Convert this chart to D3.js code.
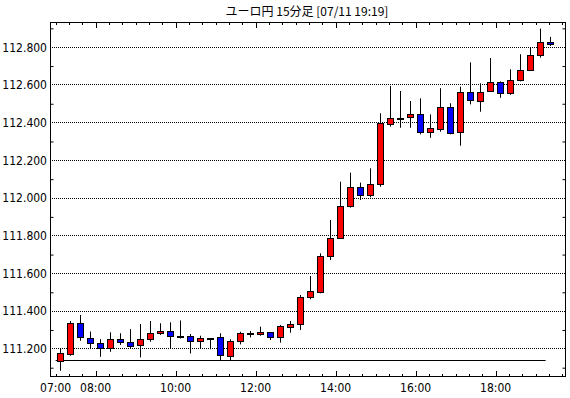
<!DOCTYPE html>
<html>
<head>
<meta charset="utf-8">
<script src="https://cdn.jsdelivr.net/npm/d3@7"></script>
<style>
  body { margin: 0; background: #fff; }
  text { font-family: "Liberation Sans Narrow", "DejaVu Sans Condensed", sans-serif; font-size: 12px; fill: #000; }
  .title { font-family: "Noto Sans CJK JP", sans-serif; font-size: 12px; }
</style>
</head>
<body>
<div id="chart"></div>
<script>
// Chart data (15 minute candles, 07:00 - 19:15)
const times = ["07:00","07:15","07:30","07:45","08:00","08:15","08:30","08:45","09:00","09:15",
  "09:30","09:45","10:00","10:15","10:30","10:45","11:00","11:15","11:30","11:45",
  "12:00","12:15","12:30","12:45","13:00","13:15","13:30","13:45","14:00","14:15",
  "14:30","14:45","15:00","15:15","15:30","15:45","16:00","16:15","16:30","16:45",
  "17:00","17:15","17:30","17:45","18:00","18:15","18:30","18:45","19:00","19:15"];
const opens = [111.133,111.173,111.333,111.253,111.227,111.202,111.249,111.235,111.214,111.248,
  111.280,111.293,111.267,111.263,111.235,111.253,111.258,111.161,111.235,111.280,
  111.274,111.285,111.258,111.315,111.327,111.471,111.500,111.686,111.784,111.953,
  112.054,112.010,112.070,112.388,112.421,112.425,112.441,112.346,112.367,112.482,
  112.346,112.558,112.514,112.562,112.611,112.551,112.622,112.675,112.752,112.823];
const highs = [111.200,111.345,111.377,111.289,111.249,111.285,111.280,111.302,111.329,111.345,
  111.333,111.338,111.348,111.276,111.267,111.253,111.280,111.248,111.288,111.292,
  111.315,111.285,111.324,111.345,111.483,111.584,111.704,111.881,112.084,112.132,
  112.079,112.155,112.447,112.592,112.565,112.512,112.526,112.441,112.580,112.500,
  112.588,112.717,112.606,112.740,112.616,112.680,112.760,112.795,112.896,112.852];
const lows = [111.081,111.161,111.240,111.196,111.155,111.182,111.218,111.200,111.152,111.235,
  111.271,111.200,111.252,111.173,111.200,111.195,111.138,111.138,111.221,111.258,
  111.267,111.244,111.230,111.283,111.297,111.460,111.492,111.668,111.780,111.946,
  111.987,112.001,112.057,112.376,112.370,112.370,112.335,112.317,112.349,112.335,
  112.275,112.494,112.455,112.560,112.529,112.545,112.616,112.671,112.742,112.804];
const closes = [111.173,111.337,111.258,111.227,111.200,111.248,111.232,111.214,111.248,111.280,
  111.293,111.267,111.267,111.235,111.253,111.253,111.161,111.239,111.280,111.280,
  111.286,111.256,111.318,111.329,111.471,111.502,111.690,111.784,111.953,112.054,
  112.010,112.070,112.394,112.420,112.421,112.441,112.346,112.367,112.482,112.346,
  112.558,112.514,112.561,112.611,112.551,112.622,112.675,112.754,112.823,112.811];

// reference line across the session
const baseLine = 111.138;
const baseStart = "07:00";
const baseEnd = "19:15";

const yTicks = [111.2, 111.4, 111.6, 111.8, 112.0, 112.2, 112.4, 112.6, 112.8];
const yMinorTicks = [111.1, 111.3, 111.5, 111.7, 111.9, 112.1, 112.3, 112.5, 112.7, 112.9];
const xLabels = ["07:00", "08:00", "10:00", "12:00", "14:00", "16:00", "18:00"];
const titleText = "ユーロ円 15分足 [07/11 19:19]";

// Setup layout
const svgWidth = 570;
const svgHeight = 398;
const plot = { left: 50, right: 566, top: 22, bottom: 377 };

const parseTime = d3.timeParse("%H:%M");

const svg = d3.select("#chart")
  .append("svg")
  .attr("width", svgWidth)
  .attr("height", svgHeight);

// x scale: 40px per hour, 07:00 sits a little right of the frame
const x = d3.scaleTime()
  .domain([parseTime("06:51"), parseTime("19:45")])
  .range([plot.left - 0.5 * 40 / 60 * 1, plot.right - 0.5 * 40 / 60 * 1]);

const y = d3.scaleLinear()
  .domain([111.048, 112.931])
  .range([plot.bottom, plot.top]);

const candles = times.map((t, i) => ({
  time: parseTime(t),
  open: opens[i], high: highs[i], low: lows[i], close: closes[i]
}));

// candle center is a bit after the period start
const cx = d => Math.round(x(new Date(+d.time + 7 * 60000))) + 0.5;

// gridlines
svg.append("g")
  .selectAll("line")
  .data(yTicks)
  .enter()
  .append("line")
  .attr("x1", plot.left)
  .attr("x2", plot.right)
  .attr("y1", d => Math.round(y(d)) + 0.5)
  .attr("y2", d => Math.round(y(d)) + 0.5)
  .attr("stroke", "#000")
  .attr("stroke-dasharray", "1,1");

// y axis labels (left)
const leftAxis = d3.axisLeft(y)
  .tickValues(yTicks)
  .tickSize(0)
  .tickPadding(3)
  .tickFormat(d3.format(".3f"));

svg.append("g")
  .attr("transform", `translate(${plot.left}, 0.5)`)
  .call(leftAxis)
  .call(g => g.select(".domain").remove());

// minor ticks on both sides
const minorLeft = d3.axisRight(y).tickValues(yMinorTicks).tickSize(3).tickFormat("");
svg.append("g")
  .attr("transform", `translate(${plot.left + 0.5}, 0.5)`)
  .call(minorLeft)
  .call(g => g.select(".domain").remove());

const minorRight = d3.axisLeft(y).tickValues(yMinorTicks).tickSize(3).tickFormat("");
svg.append("g")
  .attr("transform", `translate(${plot.right - 0.5}, 0.5)`)
  .call(minorRight)
  .call(g => g.select(".domain").remove());

// x axis ticks, every 20 minutes, longer every 2 hours
const xTickTimes = d3.timeMinute.every(20).range(parseTime("07:00"), parseTime("19:41"));
const isLong = d => d.getMinutes() === 0 && d.getHours() % 2 === 0;

[["bottom", plot.bottom, -1], ["top", plot.top, 1]].forEach(([name, yPos, dir]) => {
  svg.append("g")
    .attr("class", "xticks-" + name)
    .selectAll("line")
    .data(xTickTimes)
    .enter()
    .append("line")
    .attr("x1", d => Math.round(x(d)) + 0.5)
    .attr("x2", d => Math.round(x(d)) + 0.5)
    .attr("y1", yPos)
    .attr("y2", d => yPos + dir * (isLong(d) ? 6 : 3))
    .attr("stroke", "#000");
});

// x axis labels
svg.append("g")
  .selectAll("text")
  .data(xLabels)
  .enter()
  .append("text")
  .attr("x", d => x(parseTime(d)))
  .attr("y", 392)
  .attr("text-anchor", "middle")
  .text(d => d);

// base line
svg.append("line")
  .attr("x1", x(parseTime(baseStart)))
  .attr("x2", x(parseTime(baseEnd)))
  .attr("y1", Math.round(y(baseLine)) + 0.5)
  .attr("y2", Math.round(y(baseLine)) + 0.5)
  .attr("stroke", "#000");

// candles: wicks
const candleGroup = svg.append("g");
candleGroup.selectAll("line.wick")
  .data(candles)
  .enter()
  .append("line")
  .attr("class", "wick")
  .attr("x1", cx)
  .attr("x2", cx)
  .attr("y1", d => y(d.high))
  .attr("y2", d => y(d.low))
  .attr("stroke", "#000");

// candles: bodies
candleGroup.selectAll("rect.body")
  .data(candles)
  .enter()
  .append("rect")
  .attr("class", "body")
  .attr("x", d => cx(d) - 3)
  .attr("width", 6)
  .attr("y", d => Math.round(y(Math.max(d.open, d.close))) + 0.5)
  .attr("height", d => Math.max(1, Math.round(y(Math.min(d.open, d.close)) - y(Math.max(d.open, d.close)))))
  .attr("fill", d => d.close > d.open ? "#ff0000" : d.close < d.open ? "#0000ff" : "#000")
  .attr("stroke", "#000")
  .attr("stroke-width", 1);

// frame
svg.append("rect")
  .attr("x", plot.left + 0.5)
  .attr("y", plot.top + 0.5)
  .attr("width", plot.right - plot.left - 1)
  .attr("height", plot.bottom - plot.top - 1)
  .attr("fill", "none")
  .attr("stroke", "#000");

// title
svg.append("text")
  .attr("class", "title")
  .attr("x", 307)
  .attr("y", 16)
  .attr("text-anchor", "middle")
  .text(titleText);
</script>
</body>
</html>
